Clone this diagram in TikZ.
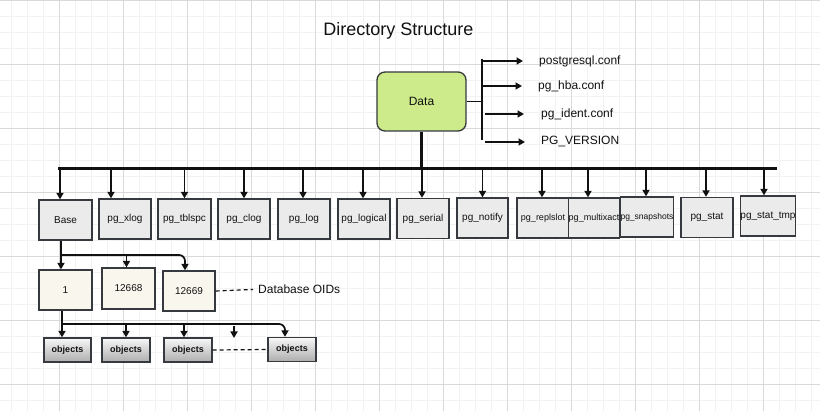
\documentclass[tikz,border=0pt]{standalone}
\usepackage{fontspec}
\setmainfont{Liberation Sans}
\usetikzlibrary{arrows.meta,calc}
\definecolor{strokec}{HTML}{36393D}
\definecolor{datagreen}{HTML}{CDEB8B}
\definecolor{boxgray}{HTML}{EBEBEB}
\definecolor{cream}{HTML}{F9F7ED}
\definecolor{inkc}{HTML}{111111}
\begin{document}
\begin{tikzpicture}[x=1pt,y=-1pt,
  minorgrid/.style={draw=black!5,line width=0.6pt},
  majorgrid/.style={draw=black!15,line width=0.8pt},
  arr/.style={-{Triangle[width=7pt,length=6.5pt]},line width=1.7pt,draw=inkc},
  busline/.style={line width=2.4pt,draw=inkc},
  thinline/.style={line width=1.6pt,draw=inkc},
  dashline/.style={line width=1.2pt,draw=inkc,dash pattern=on 4pt off 3pt},
  dirbox/.style={draw=strokec,fill=boxgray,line width=1.3pt,minimum width=52pt,minimum height=40pt,inner sep=0pt,text=inkc,font=\fontsize{10}{12}\selectfont},
  oidbox/.style={draw=strokec,fill=cream,line width=1.3pt,minimum width=53pt,minimum height=40pt,inner sep=0pt,text=inkc,font=\fontsize{10}{12}\selectfont},
  objbox/.style={draw=strokec,top color=black!3,bottom color=black!32,line width=1.3pt,minimum width=48pt,minimum height=24pt,inner sep=0pt,text=inkc,font=\bfseries\fontsize{9}{11}\selectfont},
  databox/.style={draw=strokec,fill=datagreen,line width=1.3pt,rounded corners=8pt,minimum width=89pt,minimum height=59pt,inner sep=0pt,text=inkc,font=\fontsize{12}{14}\selectfont},
  filelabel/.style={anchor=west,inner sep=0pt,text=inkc,font=\fontsize{12}{14}\selectfont}]
\useasboundingbox (0,0) rectangle (820,411);
\fill[white] (0,0) rectangle (820,411);
\foreach \x in {11,27,...,811} \draw[minorgrid] (\x,0) -- (\x,411);
\foreach \y in {16,32,...,400} \draw[minorgrid] (0,\y) -- (820,\y);
\foreach \x in {59,123,...,827} \draw[majorgrid] (\x,0) -- (\x,411);
\foreach \y in {0,64,...,384} \draw[majorgrid] (0,\y) -- (820,\y);

% title
\node[text=inkc,font=\fontsize{18}{21}\selectfont] (title) at (398.5,31) {Directory Structure};

% data and files
\node[databox] (data) at (421.5,101.5) {Data};
\coordinate (brT) at (482,59);
\coordinate (brB) at (482,140);
\draw[thinline] (data.east) -- (data.east -| brT);
\draw[busline] (brT) -- (brB);
\node[filelabel] (f1) at (539,61) {postgresql.conf};
\node[filelabel] (f2) at (538,86) {pg\_hba.conf};
\node[filelabel] (f3) at (541,114) {pg\_ident.conf};
\node[filelabel] (f4) at (541,142) {PG\_VERSION};
\draw[arr] (brT |- f1) -- ($(f1.west)+(-16,0)$);
\draw[arr] (brT |- f2) -- ($(f2.west)+(-16,0)$);
\draw[arr] ($(brT |- f3)+(3,0)$) -- ($(f3.west)+(-17,0)$);
\draw[arr] ($(brT |- f4)+(3,0)$) -- ($(f4.west)+(-16,0)$);

% directory row
\node[dirbox,minimum width=53pt] (base) at (65.5,220) {Base};
\node[dirbox] (xlog) at (125,219) {pg\_xlog};
\node[dirbox,minimum width=53pt] (tblspc) at (184.5,219) {pg\_tblspc};
\node[dirbox] (clog) at (244,219) {pg\_clog};
\node[dirbox] (log) at (304,219) {pg\_log};
\node[dirbox] (logical) at (364,219) {pg\_logical};
\node[dirbox] (serial) at (423,218.5) {pg\_serial};
\node[dirbox,minimum width=51pt] (notify) at (482.5,218) {pg\_notify};
\node[dirbox,font=\fontsize{9}{10}\selectfont] (replslot) at (543,218) {pg\_replslot};
\node[dirbox,minimum width=44pt,font=\fontsize{9}{10}\selectfont] (multixact) at (594,218) {pg\_multixact};
\node[dirbox,font=\fontsize{8.5}{10}\selectfont] (snapshots) at (647,217) {pg\_snapshots};
\node[dirbox] (stat) at (707,217.5) {pg\_stat};
\node[dirbox] (stattmp) at (768,216) {pg\_stat\_tmp};

\coordinate (busL) at (58,168.5);
\coordinate (busR) at (777,168.5);
\draw[busline] (busL) -- (busR);
\draw[busline] (data.south) -- (data.south |- busL);
\foreach \n/\dx in {base/-5.5,xlog/-14,tblspc/0,clog/0,log/-1,logical/-1,serial/-1,notify/0,replslot/-1,multixact/-6,snapshots/-1,stat/-1,stattmp/-4}
  \draw[arr] ($(\n.north |- busL)+(\dx,0)$) -- ($(\n.north)+(\dx,0)$);

% database OIDs
\node[oidbox] (n1) at (65.5,290) {1};
\node[oidbox,minimum height=41pt] (n12668) at (128.5,288.5) {12668};
\node[oidbox,minimum width=52pt] (n12669) at (189,291) {12669};
\coordinate (j1) at (61,255);
\draw[arr] (j1 |- base.south) -- (j1 |- n1.north);
\draw[arr,rounded corners=6pt] (j1) -| ($(n12669.north)+(-4,0)$);
\draw[arr] ($(j1 -| n12668.north)+(-2,0)$) -- ($(n12668.north)+(-2,0)$);
\node[filelabel] (oids) at (258,289.5) {Database OIDs};
\draw[dashline] (n12669.east) -- ($(oids.west)+(-5,0)$);

% objects
\node[objbox,minimum width=47pt] (obj1) at (67.5,350) {objects};
\node[objbox] (obj2) at (126,350) {objects};
\node[objbox] (obj3) at (188,350) {objects};
\node[objbox] (obj4) at (292,349.5) {objects};
\coordinate (j2) at (62,324);
\draw[arr] (j2 |- n1.south) -- (j2 |- obj1.north);
\draw[arr,rounded corners=6pt] (j2) -| ($(obj4.north)+(-7,0)$);
\draw[arr] (j2 -| obj2.north) -- (obj2.north);
\draw[arr] ($(j2 -| obj3.north)+(-4,0)$) -- ($(obj3.north)+(-4,0)$);
\coordinate (fa1) at (234,326);
\coordinate (fa2) at (234,338);
\draw[arr] (fa1) -- (fa2);
\draw[dashline] (obj3.east) -- (obj4.west);
\end{tikzpicture}
\end{document}
